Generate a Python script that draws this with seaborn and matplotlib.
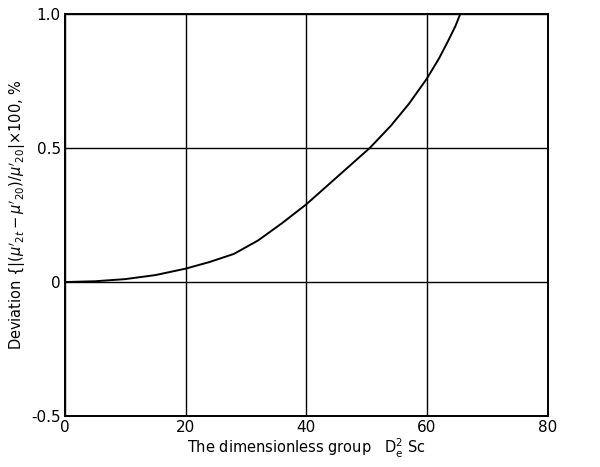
import numpy as np
import pandas as pd
import matplotlib.pyplot as plt
import seaborn as sns

# values
group = [0, 5, 10, 15, 20, 24, 28, 32, 36, 40, 44, 47, 50.5, 54, 57, 60, 62, 63.5, 64.7, 65.5]
deviation = [0.0, 0.003, 0.011, 0.026, 0.05, 0.075, 0.105, 0.155, 0.22, 0.29, 0.37, 0.43, 0.5, 0.583, 0.665, 0.76, 0.835, 0.9, 0.955, 1.0]

xticks = [0, 20, 40, 60, 80]
yticks = [-0.5, 0, 0.5, 1.0]
ytick_labels = ['-0.5', '0', '0.5', '1.0']

df = pd.DataFrame({'group': group, 'deviation': deviation})

sns.set_theme(style='white')
plt.rcParams['font.family'] = ['DejaVu Sans']

fig = plt.figure(figsize=(6, 4.67), dpi=100)
ax = fig.add_axes([0.108, 0.109, 0.805, 0.861])

sns.lineplot(data=df, x='group', y='deviation', color='black', lw=1.4, ax=ax)

ax.set_xlim(0, 80)
ax.set_ylim(-0.5, 1.0)
ax.set_xticks(xticks)
ax.set_yticks(yticks)
ax.set_yticklabels(ytick_labels)
ax.grid(True, color='black', lw=1.0)
ax.tick_params(axis='both', length=0, pad=3, labelsize=11, colors='black')
for s in ax.spines.values():
    s.set_color('black')
    s.set_linewidth(1.4)

ax.set_xlabel(r'The dimensionless group   $\mathrm{D_e^2}$ Sc', fontsize=10.5, labelpad=1, color='black')
ax.set_ylabel(r"Deviation $\{|(\mu'_{2t}-\mu'_{20})/\mu'_{20}|$$\times$100, %", fontsize=10.5, labelpad=2, color='black')

fig.savefig('out.png', dpi=100)
